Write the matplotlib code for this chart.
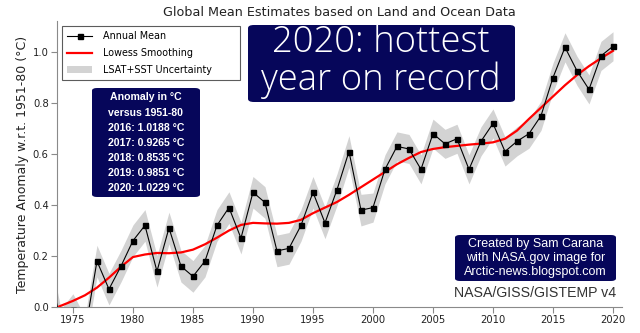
import matplotlib
matplotlib.use("Agg")
import matplotlib.pyplot as plt
from matplotlib.patches import FancyBboxPatch, Patch
from matplotlib.lines import Line2D

# GISTEMP v4 annual global means, anomaly vs 1951-80 (°C)
years = list(range(1973, 2021))
annual_mean = [0.16, -0.07, -0.01, -0.10, 0.18, 0.07, 0.16, 0.26, 0.32, 0.14,
               0.31, 0.16, 0.12, 0.18, 0.32, 0.39, 0.27, 0.45, 0.41, 0.22,
               0.23, 0.32, 0.45, 0.33, 0.46, 0.61, 0.38, 0.39, 0.54, 0.63,
               0.62, 0.54, 0.68, 0.64, 0.66, 0.54, 0.65, 0.72, 0.61, 0.65,
               0.68, 0.75, 0.90, 1.0188, 0.9265, 0.8535, 0.9851, 1.0229]
lowess = [-0.015, 0.005, 0.024, 0.046, 0.076, 0.115, 0.158, 0.196, 0.206, 0.212,
          0.211, 0.214, 0.225, 0.246, 0.272, 0.300, 0.322, 0.330, 0.328, 0.327,
          0.330, 0.342, 0.368, 0.390, 0.412, 0.440, 0.470, 0.500, 0.530, 0.560,
          0.585, 0.608, 0.620, 0.627, 0.632, 0.637, 0.641, 0.646, 0.660, 0.692,
          0.738, 0.782, 0.826, 0.870, 0.910, 0.945, 0.976, 1.005]
uncertainty = [0.062] * 27 + [0.057] * 21

xticks = [1975, 1980, 1985, 1990, 1995, 2000, 2005, 2010, 2015, 2020]
yticks = [0.0, 0.2, 0.4, 0.6, 0.8, 1.0]

title = "Global Mean Estimates based on Land and Ocean Data"
ylabel = "Temperature Anomaly w.r.t. 1951-80 (°C)"
headline = "2020: hottest\nyear on record"
anomaly_lines = ["Anomaly in °C", "versus 1951-80",
                 "2016: 1.0188 °C", "2017: 0.9265 °C", "2018: 0.8535 °C",
                 "2019: 0.9851 °C", "2020: 1.0229 °C"]
credit_lines = ["Created by Sam Carana", "with NASA.gov image for",
                "Arctic-news.blogspot.com"]
source = "NASA/GISS/GISTEMP v4"

NAVY = "#06065a"
BAND = "#d3d3d3"
AXIS = "#8a8a8a"

W, H = 640, 333
fig = plt.figure(figsize=(W / 100, H / 100), dpi=100)


def fx(px):
    return px / W


def fy(py):
    return 1 - py / H


ax = fig.add_axes([fx(57), fy(307), fx(622) - fx(57), fy(21) - fy(307)])

lo = [m - u for m, u in zip(annual_mean, uncertainty)]
hi = [m + u for m, u in zip(annual_mean, uncertainty)]
ax.fill_between(years, lo, hi, color=BAND, lw=0, zorder=1)
ax.plot(years, annual_mean, color="black", lw=0.8, marker="s", ms=3.6,
        zorder=3)
ax.plot(years, lowess, color="red", lw=1.6, zorder=2)

ax.set_xlim(1973.67, 2020.75)
ax.set_ylim(0, 1.122)
ax.set_xticks(xticks)
ax.set_yticks(yticks)
ax.set_yticklabels([f"{v:.1f}" for v in yticks])
for s in ("top", "right"):
    ax.spines[s].set_visible(False)
for s in ("left", "bottom"):
    ax.spines[s].set_color(AXIS)
    ax.spines[s].set_linewidth(0.8)
ax.tick_params(direction="out", length=4, width=0.8, color=AXIS,
               labelsize=7.2, labelcolor="#222222", pad=2)
ax.set_ylabel(ylabel, fontsize=9.0, color="#222222", labelpad=3)

fig.text(fx(339), fy(12), title, ha="center", va="center", fontsize=9.2,
         color="#222222")

handles = [Line2D([], [], color="black", lw=0.8, marker="s", ms=3.6),
           Line2D([], [], color="red", lw=1.6),
           Patch(facecolor=BAND, edgecolor="none")]
labels = ["Annual Mean", "Lowess Smoothing", "LSAT+SST Uncertainty"]
leg = fig.legend(handles, labels, loc="upper left",
                 bbox_to_anchor=(fx(62), fy(80), fx(240) - fx(62),
                                 fy(26) - fy(80)),
                 mode="expand", fontsize=6.9,
                 frameon=True, fancybox=False, edgecolor="#333333",
                 handlelength=2.6, handletextpad=1.15, labelspacing=0.72,
                 borderpad=0.55, borderaxespad=0)
leg.get_frame().set_linewidth(0.8)


def navy_box(x0, y0, x1, y1, r=4):
    fig.patches.append(FancyBboxPatch(
        (fx(x0), fy(y1)), fx(x1) - fx(x0), fy(y0) - fy(y1),
        boxstyle=f"round,pad=0,rounding_size={r / W}",
        transform=fig.transFigure, facecolor=NAVY, edgecolor="none",
        zorder=5))


# headline box: two tightly spaced lines, sized to the box width
navy_box(248, 25, 515, 102, r=6)
renderer = fig.canvas.get_renderer()
head = fig.text(fx(381), fy(90), headline, ha="center", va="baseline",
                multialignment="center", fontsize=26, linespacing=1.0,
                color="white", family="Open Sans", fontweight="light",
                zorder=6)
w = head.get_window_extent(renderer).width
head.set_fontsize(26 * 240 / w)

# anomaly values box
navy_box(92, 88, 200, 197, r=5)
for i, txt in enumerate(anomaly_lines):
    fig.text(fx(146), fy(97.5 + i * 15.1), txt, ha="center", va="center",
             fontsize=7.6, fontweight="bold", color="white",
             family="Liberation Sans", zorder=6)

# credit box
navy_box(455, 235, 616, 281, r=5)
for i, txt in enumerate(credit_lines):
    fig.text(fx(535.5), fy(244 + i * 14), txt, ha="center", va="center",
             fontsize=9.0, color="white", family="Liberation Sans", zorder=6)

fig.text(fx(616), fy(293), source, ha="right", va="center", fontsize=10.2,
         color="#333333", family="Liberation Sans")

fig.savefig("out.png", dpi=100)
